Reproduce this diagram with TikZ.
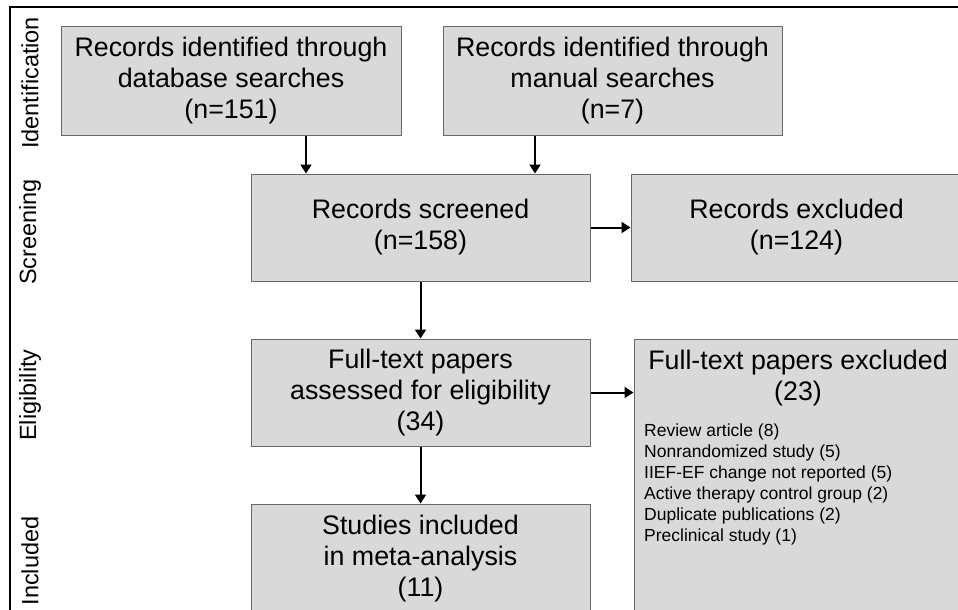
\documentclass[tikz,border=0pt]{standalone}
\usepackage{fontspec}
\setmainfont{Liberation Sans}
\usetikzlibrary{arrows.meta}
\definecolor{boxfill}{RGB}{217,217,217}
\definecolor{boxline}{RGB}{105,105,105}
\tikzset{
  stage/.style={draw=boxline, line width=1pt, fill=boxfill, inner sep=0pt, align=center,
    font=\fontsize{26.8}{31}\selectfont},
  arr/.style={line width=2pt, -{Triangle[width=11pt,length=9pt]}},
  phase/.style={rotate=90, inner sep=0pt, font=\fontsize{23.5}{28}\selectfont},
  listtext/.style={inner sep=0pt, align=left, font=\fontsize{17.5}{21}\selectfont},
}
\begin{document}
\begin{tikzpicture}[x=1pt,y=-1pt]
\path[use as bounding box] (0,0) rectangle (958,610);
\clip (0,0) rectangle (958,610);
\fill[white] (0,0) rectangle (958,610);
\draw[line width=1.6pt] (10,612) -- (10,7) -- (960,7);

\node[phase] (lid) at (30,83) {Identification};
\node[phase] (lsc) at (30,232) {Screening};
\node[phase] (lel) at (30,395) {Eligibility};
\node[phase] (lin) at (30,561) {Included};

\node[stage, minimum width=340pt, minimum height=108pt] (db) at (231,81)
  {Records identified through\\database searches\\(n=151)};
\node[stage, minimum width=339pt, minimum height=108pt] (man) at (612.5,81)
  {Records identified through\\manual searches\\(n=7)};
\node[stage, minimum width=339pt, minimum height=107pt] (scr) at (420.5,227.5)
  {Records screened\\(n=158)};
\node[stage, minimum width=331pt, minimum height=107pt] (rex) at (796.5,227.5)
  {Records excluded\\(n=124)};
\node[stage, minimum width=339pt, minimum height=107pt] (full) at (420.5,392.5)
  {Full-text papers\\assessed for eligibility\\(34)};
\node[stage, minimum width=328pt, minimum height=275pt] (fex) at (798,476.5) {};
\node[inner sep=0pt, align=center, font=\fontsize{26.8}{31}\selectfont] (fext) at (798,378.5)
  {Full-text papers excluded\\(23)};
\node[listtext, anchor=north west] (flist) at (644,424)
  {Review article (8)\\Nonrandomized study (5)\\IIEF-EF change not reported (5)\\Active therapy control group (2)\\Duplicate publications (2)\\Preclinical study (1)};
\node[stage, minimum width=339pt, minimum height=110pt] (stu) at (420.5,559)
  {Studies included\\in meta-analysis\\(11)};

\draw[arr] ([xshift=75pt]db.south) -- ([xshift=75pt]db.south |- scr.north);
\draw[arr] ([xshift=-77.5pt]man.south) -- ([xshift=-77.5pt]man.south |- scr.north);
\draw[arr] (scr.east) -- (rex.west);
\draw[arr] (scr.south) -- (full.north);
\draw[arr] (full.east) -- (full.east -| fex.west);
\draw[arr] (full.south) -- (stu.north);
\end{tikzpicture}
\end{document}
